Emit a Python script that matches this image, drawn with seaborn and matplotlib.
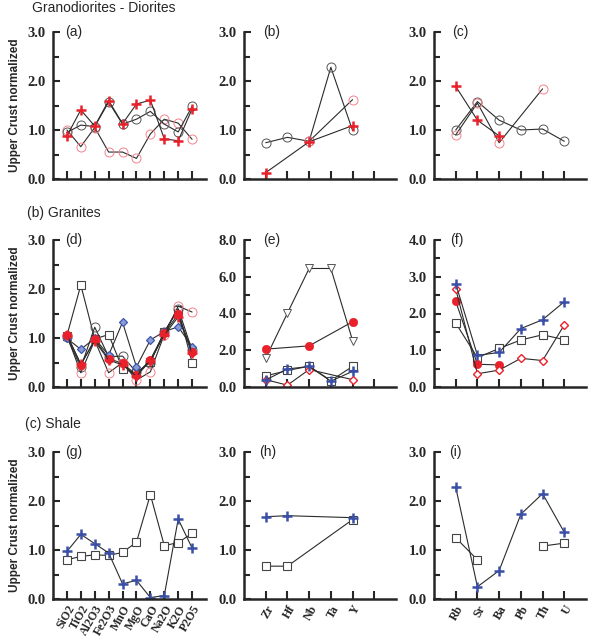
import numpy as np
import pandas as pd
import matplotlib
matplotlib.use("Agg")
import matplotlib.pyplot as plt
from matplotlib.ticker import MultipleLocator, FormatStrFormatter
import seaborn as sns

nan = np.nan

# ---------------- categories ----------------
oxides = ["SiO2", "TiO2", "Al2O3", "Fe2O3", "MnO", "MgO", "CaO", "Na2O", "K2O", "P2O5"]
hfse = ["Zr", "Hf", "Nb", "Ta", "Y"]
lile = ["Rb", "Sr", "Ba", "Pb", "Th", "U"]

# ---------------- (a)-(c) Granodiorites - Diorites ----------------
a_red_cross = [0.88, 1.41, 1.08, 1.60, 1.13, 1.53, 1.61, 0.82, 0.78, 1.43]
a_gray_circle = [0.95, 1.10, 1.07, 1.57, 1.12, 1.22, 1.38, 1.12, 0.96, 1.48]
a_pink_circle = [1.00, 0.66, 1.05, 0.55, 0.55, 0.42, 0.92, 1.22, 1.14, 0.81]

b_gray_circle = [0.74, 0.85, 0.77, 2.28, 0.99]
b_red_cross = [0.13, nan, 0.76, nan, 1.09]
b_pink_circle = [nan, nan, 0.77, nan, 1.62]

c_red_cross = [1.89, 1.20, 0.88, nan, nan, nan]
c_gray_circle = [1.00, 1.58, 1.20, 1.00, 1.02, 0.77]
c_pink_circle = [0.90, 1.55, 0.74, nan, 1.84, nan]

# ---------------- (d)-(f) Granites ----------------
d_square = [1.05, 2.08, 0.98, 1.07, 0.37, 0.28, 0.52, 1.12, 1.58, 0.50]
d_gray_circle = [1.02, 0.40, 1.22, 0.62, 0.63, 0.30, 0.50, 1.12, 1.60, 0.75]
d_pink_circle = [1.05, 0.29, 0.95, 0.29, 0.50, 0.14, 0.31, 1.07, 1.65, 1.53]
d_blue_diamond = [0.99, 0.77, 0.99, 0.65, 1.32, 0.41, 0.96, 1.13, 1.23, 0.82]
d_red_dot = [1.07, 0.45, 0.97, 0.58, 0.48, 0.25, 0.56, 1.10, 1.48, 0.72]
d_red_cross = [1.06, 0.47, 0.94, 0.55, 0.45, 0.22, 0.54, 1.06, 1.43, 0.69]

e_triangle = [1.57, 4.02, 6.45, 6.45, 2.53]
e_red_dot = [2.06, nan, 2.24, nan, 3.55]
e_square = [0.60, 0.90, 1.13, 0.35, 1.12]
e_blue_plus = [0.38, 0.98, 1.12, 0.32, 0.85]
e_red_diamond = [0.40, 0.10, 0.95, nan, 0.40]

f_square = [1.74, 0.80, 1.05, 1.28, 1.42, 1.29]
f_red_dot = [2.33, 0.62, 0.60, nan, nan, nan]
f_red_diamond = [2.67, 0.36, 0.46, 0.78, 0.72, 1.69]
f_blue_plus = [2.81, 0.86, 0.94, 1.59, 1.83, 2.32]

# ---------------- (g)-(i) Shale ----------------
g_square = [0.80, 0.87, 0.90, 0.89, 0.95, 1.16, 2.13, 1.09, 1.15, 1.34]
g_blue_plus = [0.97, 1.32, 1.13, 0.94, 0.31, 0.38, 0.03, 0.07, 1.63, 1.04]

h_square = [0.67, 0.67, nan, nan, 1.62]
h_blue_plus = [1.68, 1.70, nan, nan, 1.66]

i_square = [1.25, 0.80, nan, nan, 1.08, 1.14]
i_blue_plus = [2.28, 0.25, 0.58, 1.73, 2.15, 1.36]

# ---------------- styles ----------------
RED = "#e8212b"
PINK = "#f2838c"
GRAY = "#555555"
BLUE = "#3a4fa6"
LINE = "#2b2b2b"
STY = {
    "red_cross": dict(marker="+", markersize=7, markeredgewidth=1.8, markeredgecolor=RED, markerfacecolor=RED),
    "gray_circle": dict(marker="o", markersize=6.5, markeredgewidth=0.7, markeredgecolor=GRAY, markerfacecolor="none"),
    "pink_circle": dict(marker="o", markersize=6.5, markeredgewidth=0.7, markeredgecolor=PINK, markerfacecolor="none"),
    "square": dict(marker="s", markersize=5.5, markeredgewidth=0.8, markeredgecolor="#444444", markerfacecolor="white"),
    "blue_diamond": dict(marker="D", markersize=4, markeredgewidth=0.9, markeredgecolor="#3f57b0", markerfacecolor="#8c9ad6"),
    "red_dot": dict(marker="o", markersize=6, markeredgewidth=0.5, markeredgecolor=RED, markerfacecolor=RED),
    "red_diamond": dict(marker="D", markersize=3.8, markeredgewidth=1.0, markeredgecolor=RED, markerfacecolor="white"),
    "blue_plus": dict(marker="+", markersize=7, markeredgewidth=1.8, markeredgecolor=BLUE, markerfacecolor=BLUE),
    "triangle": dict(marker="v", markersize=5.5, markeredgewidth=0.7, markeredgecolor="#555555", markerfacecolor="white"),
}

sns.set_style("ticks")
plt.rcParams["font.family"] = ["Liberation Sans", "DejaVu Sans"]

W, H = 594, 639
fig = plt.figure(figsize=(W / 100, H / 100), dpi=100)

col_px = [(53, 153), (244, 152), (434, 152)]
row_px = [(32, 179), (240, 387), (452, 599)]


def make_ax(r, c):
    l, w = col_px[c]
    t, b = row_px[r]
    return fig.add_axes([l / W, 1 - b / H, w / W, (b - t) / H])


def draw(ax, y, style, connect=True):
    y = np.asarray(y, dtype=float)
    df = pd.DataFrame({"x": np.arange(len(y)), "y": y})
    if connect:
        segs = [df.dropna()]
    else:
        grp = df["y"].isna().cumsum()
        segs = [g.dropna() for _, g in df.groupby(grp)]
        segs = [s for s in segs if len(s)]
    for s in segs:
        sns.lineplot(data=s, x="x", y="y", ax=ax, estimator=None, sort=False,
                     color=LINE, linewidth=0.8, **STY[style])


panels = [
    (0, 0, "(a)", oxides, 3, [(a_pink_circle, "pink_circle"), (a_gray_circle, "gray_circle"), (a_red_cross, "red_cross")]),
    (0, 1, "(b)", hfse, 3, [(b_gray_circle, "gray_circle"), (b_pink_circle, "pink_circle"), (b_red_cross, "red_cross")]),
    (0, 2, "(c)", lile, 3, [(c_gray_circle, "gray_circle"), (c_pink_circle, "pink_circle"), (c_red_cross, "red_cross")]),
    (1, 0, "(d)", oxides, 3, [(d_square, "square"), (d_gray_circle, "gray_circle"), (d_pink_circle, "pink_circle"),
                              (d_blue_diamond, "blue_diamond"), (d_red_dot, "red_dot"), (d_red_cross, "red_cross")]),
    (1, 1, "(e)", hfse, 8, [(e_triangle, "triangle"), (e_red_dot, "red_dot"), (e_square, "square"),
                            (e_red_diamond, "red_diamond"), (e_blue_plus, "blue_plus")]),
    (1, 2, "(f)", lile, 4, [(f_square, "square"), (f_red_dot, "red_dot"), (f_red_diamond, "red_diamond"),
                            (f_blue_plus, "blue_plus")]),
    (2, 0, "(g)", oxides, 3, [(g_square, "square"), (g_blue_plus, "blue_plus")]),
    (2, 1, "(h)", hfse, 3, [(h_square, "square"), (h_blue_plus, "blue_plus")]),
    (2, 2, "(i)", lile, 3, [(i_square, "square", False), (i_blue_plus, "blue_plus")]),
]

label_dx = {"(a)": 12, "(b)": 19, "(c)": 18, "(d)": 12, "(e)": 19, "(f)": 16, "(g)": 12, "(h)": 15, "(i)": 15}

for r, c, lab, cats, ymax, series in panels:
    ax = make_ax(r, c)
    for item in series:
        y, st = item[0], item[1]
        conn = item[2] if len(item) > 2 else True
        draw(ax, y, st, conn)
    n = len(cats)
    nt = n + 1 if n == 5 else n
    ax.set_xlim(-1, nt if n == 5 else n)
    ax.set_ylim(0, ymax)
    ax.set_xticks(np.arange(nt))
    if r == 2:
        labels = list(cats) + ([""] if n == 5 else [])
        ax.set_xticklabels(labels, rotation=60, ha="right", rotation_mode="anchor",
                           fontfamily="Liberation Serif", fontweight="bold", fontsize=8.5)
    else:
        ax.set_xticklabels([])
    if ymax == 8:
        ax.yaxis.set_major_locator(MultipleLocator(2))
        ax.yaxis.set_minor_locator(MultipleLocator(1))
    else:
        ax.yaxis.set_major_locator(MultipleLocator(1))
        ax.yaxis.set_minor_locator(MultipleLocator(0.5))
    ax.yaxis.set_major_formatter(FormatStrFormatter("%.1f"))
    for t in ax.get_yticklabels():
        t.set_fontfamily("Liberation Serif")
        t.set_fontweight("bold")
        t.set_fontsize(10.5)
    ax.tick_params(axis="y", which="major", direction="in", length=5, width=1.5, pad=5)
    ax.tick_params(axis="y", which="minor", direction="in", length=4, width=1.5)
    ax.tick_params(axis="x", which="major", direction="in", length=6, width=1.5, pad=3)
    for sp in ["top", "right"]:
        ax.spines[sp].set_visible(False)
    for sp in ["left", "bottom"]:
        ax.spines[sp].set_linewidth(1.8)
    ax.set_xlabel("")
    if c == 0:
        ax.set_ylabel("Upper Crust normalized", fontweight="bold", fontsize=8.5, labelpad=5)
    else:
        ax.set_ylabel("")
    w = col_px[c][1]
    ax.text(label_dx[lab] / w, 1.0, lab, transform=ax.transAxes, ha="left", va="center", fontsize=10)

fig.text(32 / W, 1 - 8 / H, "Granodiorites - Diorites", ha="left", va="center", fontsize=10)
fig.text(27 / W, 1 - 213 / H, "(b) Granites", ha="left", va="center", fontsize=10)
fig.text(25 / W, 1 - 424 / H, "(c) Shale", ha="left", va="center", fontsize=10)

fig.savefig("out.png", dpi=100)
